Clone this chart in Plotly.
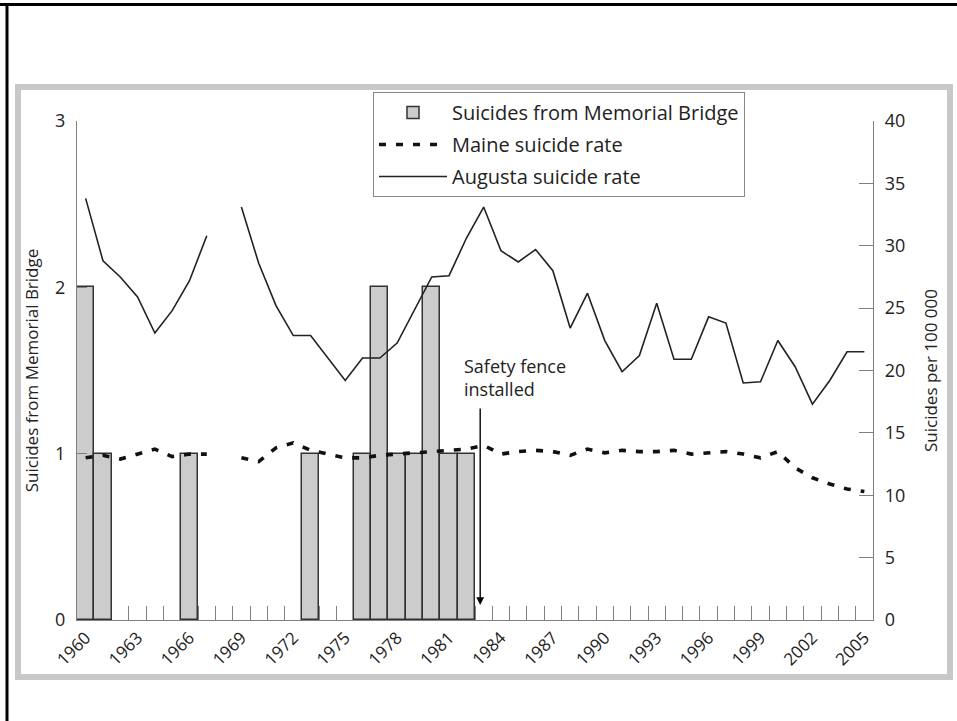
import plotly.graph_objects as go

# ---------------- data ----------------
years = list(range(1960, 2006))

bridge_years = [1960, 1961, 1966, 1973, 1976, 1977, 1978, 1979, 1980, 1981, 1982]
bridge_counts = [2, 1, 1, 1, 1, 2, 1, 1, 2, 1, 1]

augusta_rate = [33.8, 28.8, 27.5, 25.9, 23.0, 24.8, 27.2, 30.8, None, 33.1,
                28.6, 25.2, 22.8, 22.8, 21.0, 19.2, 21.0, 21.0, 22.2, 24.8,
                27.5, 27.6, 30.6, 33.1, 29.6, 28.7, 29.7, 28.0, 23.4, 26.2,
                22.4, 19.9, 21.2, 25.4, 20.9, 20.9, 24.3, 23.8, 19.0, 19.1,
                22.4, 20.3, 17.3, 19.2, 21.5, 21.5]

maine_rate = [13.0, 13.2, 12.9, 13.3, 13.7, 13.1, 13.3, 13.3, None, 13.0,
              12.7, 13.8, 14.2, 13.6, 13.3, 13.0, 13.0, 13.2, 13.3, 13.4,
              13.5, 13.6, 13.7, 14.0, 13.3, 13.5, 13.6, 13.5, 13.2, 13.7,
              13.4, 13.6, 13.5, 13.5, 13.6, 13.3, 13.4, 13.5, 13.3, 13.0,
              13.5, 12.2, 11.4, 10.9, 10.5, 10.3]

xtick_labels = [str(y) for y in range(1960, 2006, 3)]
fence_year = 1982.8

FONT = "Open Sans"
TXT = "#222222"
AX = "#808080"

fig = go.Figure()

fig.add_trace(go.Bar(
    x=bridge_years, y=bridge_counts, width=1.0,
    marker=dict(color="#cccccc", line=dict(color="#333333", width=1.5)),
    name="Suicides from Memorial Bridge", legendgroup="a", yaxis="y",
))
fig.add_trace(go.Scatter(
    x=years, y=maine_rate, mode="lines", connectgaps=False,
    line=dict(color="#111111", width=3.6, dash="7px,10px"),
    name="Maine suicide rate", legendgroup="b", yaxis="y2",
))
fig.add_trace(go.Scatter(
    x=years, y=augusta_rate, mode="lines", connectgaps=False,
    line=dict(color="#222222", width=1.6),
    name="Augusta suicide rate", legendgroup="c", yaxis="y2",
))

# pixel helpers for decoration shapes (paper coordinates)
L, R, T, B = 77, 873, 121, 620
def px(x):
    return (x - L) / (R - L)
def py(y):
    return (B - y) / (B - T)

shapes = [
    # light grey frame
    dict(type="rect", xref="paper", yref="paper",
         x0=px(18), x1=px(950), y0=py(87), y1=py(677),
         line=dict(color="#c8c8c8", width=6), layer="below"),
    # black image border (top and left)
    dict(type="line", xref="paper", yref="paper",
         x0=px(0), x1=px(957), y0=py(4.5), y1=py(4.5),
         line=dict(color="black", width=3)),
    dict(type="line", xref="paper", yref="paper",
         x0=px(7), x1=px(7), y0=py(3), y1=py(721),
         line=dict(color="black", width=3)),
]

annotations = [
    dict(x=fence_year, y=0.09, xref="x", yref="y",
         ax=fence_year, ay=1.28, axref="x", ayref="y",
         showarrow=True, arrowhead=2, arrowsize=1.1, arrowwidth=1.4,
         arrowcolor="black", text=""),
    dict(x=1981.75, y=1.455, xref="x", yref="y", xanchor="left", yanchor="middle",
         text="Safety fence<br>installed", showarrow=False, align="left",
         font=dict(family=FONT, size=18, color=TXT)),
]

fig.update_layout(
    width=957, height=721,
    margin=dict(l=L, r=957 - R, t=T, b=721 - B),
    paper_bgcolor="white", plot_bgcolor="white",
    font=dict(family=FONT, size=17, color=TXT),
    bargap=0,
    showlegend=True,
    legend=dict(
        x=px(373), y=py(92), xanchor="left", yanchor="top",
        bordercolor="#888888", borderwidth=1, bgcolor="white",
        font=dict(family=FONT, size=20, color=TXT),
        tracegroupgap=3, itemwidth=68, traceorder="grouped",
    ),
    xaxis=dict(
        range=[1959.5, 2005.5],
        tickmode="array", tickvals=list(range(1960, 2006, 3)), ticktext=xtick_labels,
        ticks="", tickangle=-45, tickfont=dict(family=FONT, size=17, color=TXT),
        showline=True, linecolor=AX, linewidth=1.2,
        showgrid=False, zeroline=False, layer="below traces",
        minor=dict(tickmode="array", tickvals=[y + 0.5 for y in range(1960, 2005)],
                   ticks="inside", ticklen=14, tickcolor=AX, tickwidth=1.2),
    ),
    yaxis=dict(
        range=[0, 3], tickvals=[0, 1, 2, 3], ticks="inside", ticklen=10,
        tickcolor=AX, tickwidth=1.2, showline=True, linecolor=AX, linewidth=1.2,
        showgrid=False, zeroline=False, ticklabelstandoff=7,
        tickfont=dict(family=FONT, size=18, color=TXT),
        title=dict(text="Suicides from Memorial Bridge", standoff=12,
                   font=dict(family=FONT, size=17, color=TXT)),
    ),
    yaxis2=dict(
        range=[0, 40], tickvals=list(range(0, 41, 5)), overlaying="y", side="right",
        ticks="inside", ticklen=14, tickcolor=AX, tickwidth=1.2,
        showline=True, linecolor=AX, linewidth=1.2,
        showgrid=False, zeroline=False, ticklabelstandoff=7,
        tickfont=dict(family=FONT, size=18, color=TXT),
        title=dict(text="Suicides per 100 000", standoff=20,
                   font=dict(family=FONT, size=17, color=TXT)),
    ),
    shapes=shapes,
    annotations=annotations,
)

fig.write_html("out.html", config={"displayModeBar": False},
               post_script="document.body.style.margin='0';document.body.style.overflow='hidden';")
